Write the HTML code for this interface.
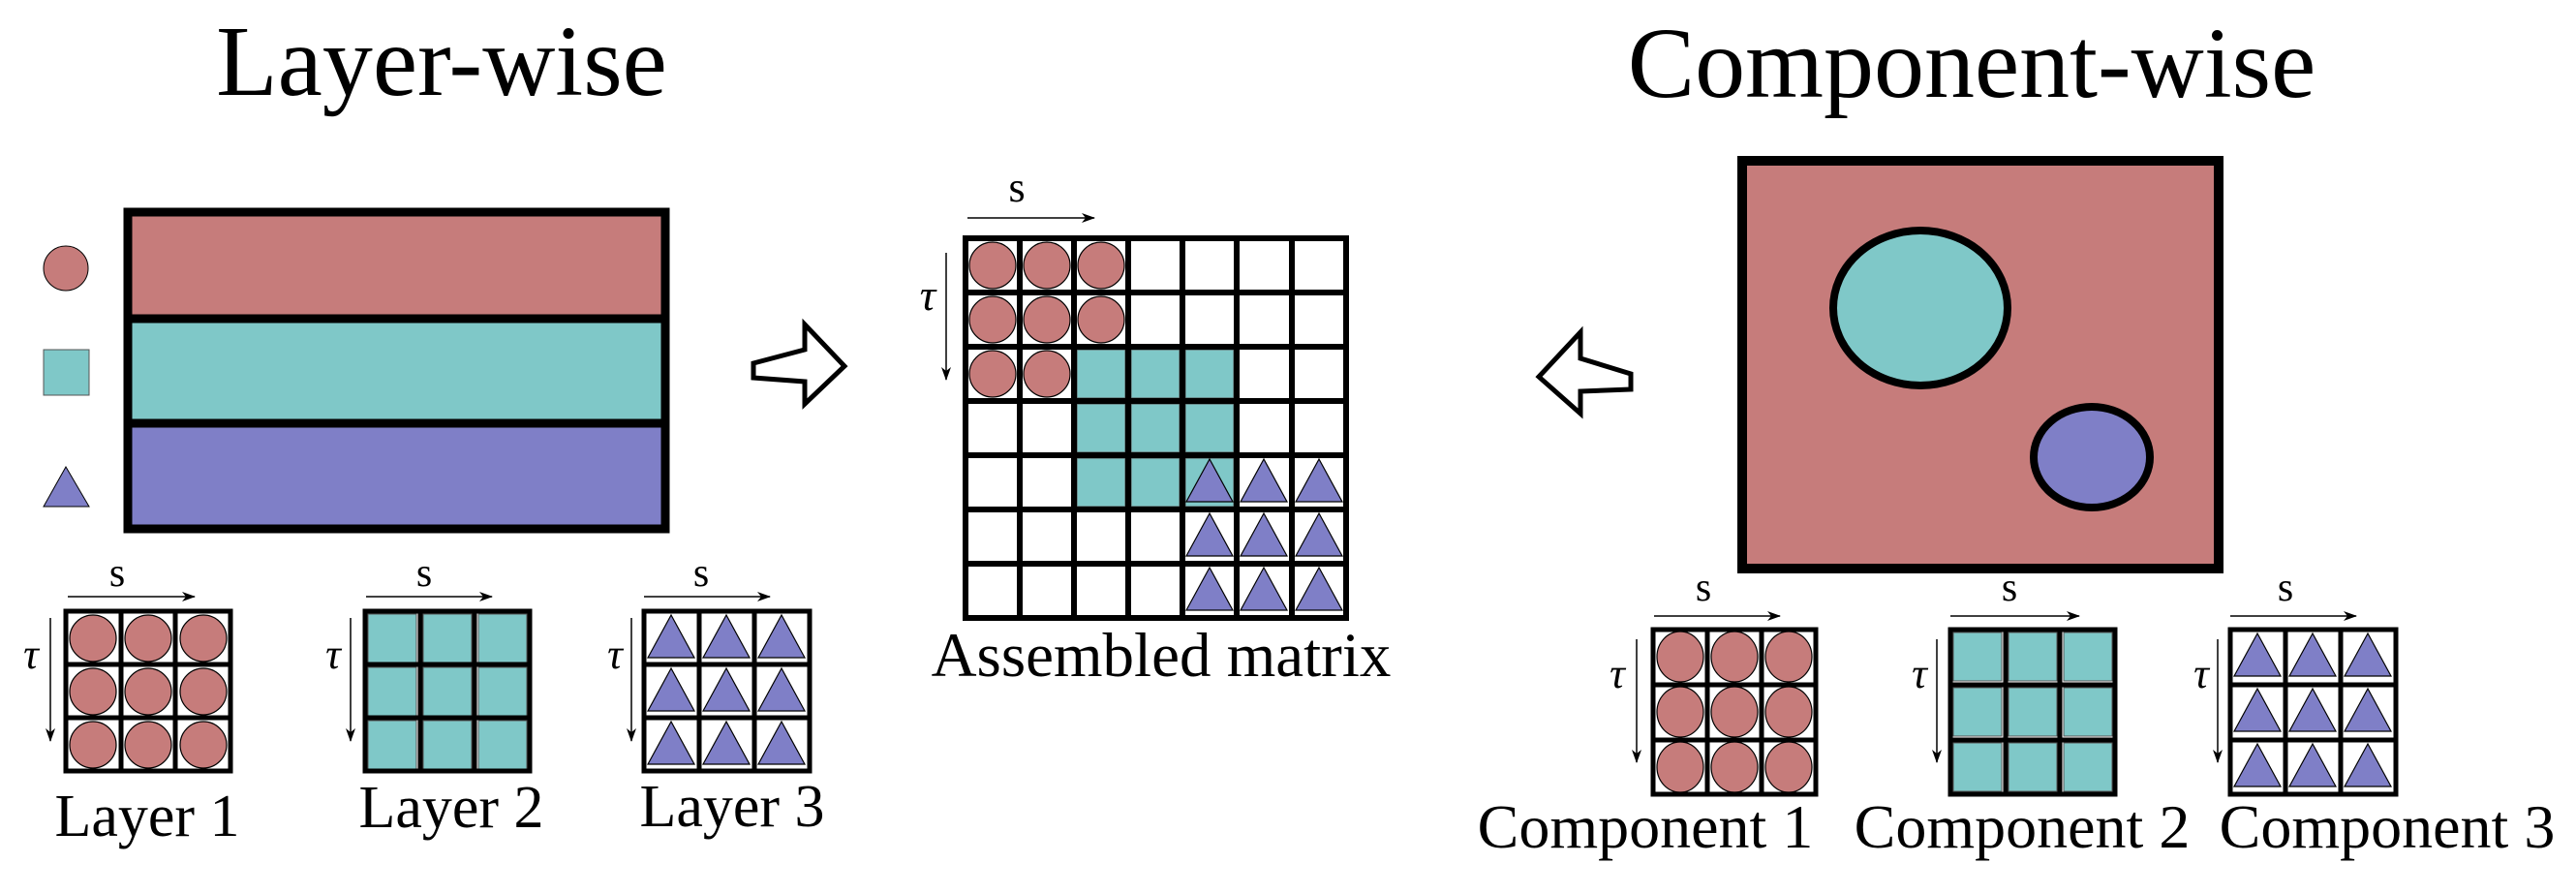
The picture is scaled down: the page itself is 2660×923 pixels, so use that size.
<!DOCTYPE html>
<html><head><meta charset="utf-8"><style>
html,body{margin:0;padding:0;background:#fff;}
svg{display:block;}
text{font-family:"Liberation Serif",serif;fill:#000;}
</style></head><body>
<svg width="2660" height="923" viewBox="0 0 2660 923" xmlns="http://www.w3.org/2000/svg">
<defs>
<circle id="c" cx="0" cy="0" r="24" fill="#c67c7b" stroke="#000" stroke-width="1.2"/>
<ellipse id="e" cx="0" cy="0" rx="24" ry="26" fill="#c67c7b" stroke="#000" stroke-width="1.2"/>
<rect id="q" x="-25" y="-25" width="50" height="50" fill="#7fc8c8" stroke="#555" stroke-width="1"/>
<polygon id="t" points="0,-24 -24,20 24,20" fill="#7f7fc7" stroke="#000" stroke-width="1.2"/>
<marker id="ah" markerWidth="14" markerHeight="10" refX="13" refY="5" orient="auto" markerUnits="userSpaceOnUse">
<path d="M0,0 L14,5 L0,10 L4,5 Z" fill="#000"/></marker>
</defs>

<!-- Titles -->
<text x="456" y="98" font-size="104" text-anchor="middle">Layer-wise</text>
<text x="2036" y="100" font-size="104" text-anchor="middle">Component-wise</text>

<!-- Layer-wise big rect -->
<rect x="132" y="219" width="555" height="108" fill="#c67c7b"/>
<rect x="132" y="329" width="555" height="108" fill="#7fc8c8"/>
<rect x="132" y="437" width="555" height="109" fill="#7f7fc7"/>
<rect x="132" y="219" width="555" height="327" fill="none" stroke="#000" stroke-width="9"/>
<line x1="132" y1="329" x2="687" y2="329" stroke="#000" stroke-width="9"/>
<line x1="132" y1="437" x2="687" y2="437" stroke="#000" stroke-width="9"/>

<!-- legend -->
<circle cx="68" cy="277" r="23" fill="#c67c7b" stroke="#000" stroke-width="1"/>
<rect x="45" y="361" width="47" height="47" fill="#7fc8c8" stroke="#555" stroke-width="1"/>
<polygon points="68,482 45,523 92,523" fill="#7f7fc7" stroke="#000" stroke-width="1"/>

<!-- right hollow arrow -->
<polygon points="778,375 831,361 831,335 872,378 831,417 831,394 778,390" fill="#fff" stroke="#000" stroke-width="5" stroke-linejoin="miter"/>
<!-- left hollow arrow -->
<polygon points="1589,389 1632,343 1632,370 1684,386 1684,402 1632,404 1632,427" fill="#fff" stroke="#000" stroke-width="5"/>

<!-- Layer 1 grid -->
<g>
<use href="#c" x="96" y="659"/><use href="#c" x="153" y="659"/><use href="#c" x="210" y="659"/>
<use href="#c" x="96" y="714"/><use href="#c" x="153" y="714"/><use href="#c" x="210" y="714"/>
<use href="#c" x="96" y="769"/><use href="#c" x="153" y="769"/><use href="#c" x="210" y="769"/>
<rect x="68" y="631" width="170" height="165" fill="none" stroke="#000" stroke-width="5"/>
<path d="M125,631V796M181,631V796M68,686H238M68,741H238" stroke="#000" stroke-width="5"/>
<text x="121" y="605" font-size="42" text-anchor="middle">s</text>
<line x1="70" y1="616" x2="201" y2="616" stroke="#000" stroke-width="1.5" marker-end="url(#ah)"/>
<text x="32" y="690" font-size="44" font-style="italic" text-anchor="middle">τ</text>
<line x1="52" y1="638" x2="52" y2="765" stroke="#000" stroke-width="1.5" marker-end="url(#ah)"/>
<text x="152" y="863" font-size="62" text-anchor="middle">Layer 1</text>
</g>

<!-- Layer 2 grid -->
<g>
<use href="#q" x="405" y="659"/><use href="#q" x="462" y="659"/><use href="#q" x="519" y="659"/>
<use href="#q" x="405" y="714"/><use href="#q" x="462" y="714"/><use href="#q" x="519" y="714"/>
<use href="#q" x="405" y="769"/><use href="#q" x="462" y="769"/><use href="#q" x="519" y="769"/>
<rect x="377" y="631" width="170" height="165" fill="none" stroke="#000" stroke-width="5"/>
<path d="M434,631V796M490,631V796M377,686H547M377,741H547" stroke="#000" stroke-width="5"/>
<text x="438" y="605" font-size="42" text-anchor="middle">s</text>
<line x1="378" y1="616" x2="508" y2="616" stroke="#000" stroke-width="1.5" marker-end="url(#ah)"/>
<text x="344" y="690" font-size="44" font-style="italic" text-anchor="middle">τ</text>
<line x1="362" y1="638" x2="362" y2="765" stroke="#000" stroke-width="1.5" marker-end="url(#ah)"/>
<text x="466" y="854" font-size="62" text-anchor="middle">Layer 2</text>
</g>

<!-- Layer 3 grid -->
<g>
<use href="#t" x="693" y="659"/><use href="#t" x="750" y="659"/><use href="#t" x="807" y="659"/>
<use href="#t" x="693" y="714"/><use href="#t" x="750" y="714"/><use href="#t" x="807" y="714"/>
<use href="#t" x="693" y="769"/><use href="#t" x="750" y="769"/><use href="#t" x="807" y="769"/>
<rect x="665" y="631" width="171" height="165" fill="none" stroke="#000" stroke-width="5"/>
<path d="M722,631V796M779,631V796M665,686H836M665,741H836" stroke="#000" stroke-width="5"/>
<text x="724" y="605" font-size="42" text-anchor="middle">s</text>
<line x1="665" y1="616" x2="795" y2="616" stroke="#000" stroke-width="1.5" marker-end="url(#ah)"/>
<text x="635" y="690" font-size="44" font-style="italic" text-anchor="middle">τ</text>
<line x1="652" y1="638" x2="652" y2="765" stroke="#000" stroke-width="1.5" marker-end="url(#ah)"/>
<text x="756" y="853" font-size="62" text-anchor="middle">Layer 3</text>
</g>

<!-- Assembled matrix -->
<g>
<use href="#c" x="1025" y="274"/><use href="#c" x="1081" y="274"/><use href="#c" x="1137" y="274"/>
<use href="#c" x="1025" y="330"/><use href="#c" x="1081" y="330"/><use href="#c" x="1137" y="330"/>
<use href="#c" x="1025" y="386"/><use href="#c" x="1081" y="386"/><use href="#c" x="1137" y="386"/>
<rect x="1110" y="358" width="168" height="168" fill="#7fc8c8"/>
<use href="#q" x="1137" y="386"/><use href="#q" x="1193" y="386"/><use href="#q" x="1249" y="386"/>
<use href="#q" x="1137" y="442"/><use href="#q" x="1193" y="442"/><use href="#q" x="1249" y="442"/>
<use href="#q" x="1137" y="498"/><use href="#q" x="1193" y="498"/><use href="#q" x="1249" y="498"/>
<use href="#t" x="1249" y="498"/><use href="#t" x="1305" y="498"/><use href="#t" x="1362" y="498"/>
<use href="#t" x="1249" y="554"/><use href="#t" x="1305" y="554"/><use href="#t" x="1362" y="554"/>
<use href="#t" x="1249" y="610"/><use href="#t" x="1305" y="610"/><use href="#t" x="1362" y="610"/>
<rect x="997" y="246" width="393" height="392" fill="none" stroke="#000" stroke-width="6"/>
<path d="M1053,246V638M1109,246V638M1165,246V638M1221,246V638M1277,246V638M1334,246V638M997,302H1390M997,358H1390M997,414H1390M997,470H1390M997,526H1390M997,582H1390" stroke="#000" stroke-width="6"/>
<text x="1050" y="208" font-size="44" text-anchor="middle">s</text>
<line x1="999" y1="225" x2="1130" y2="225" stroke="#000" stroke-width="1.5" marker-end="url(#ah)"/>
<text x="958" y="320" font-size="46" font-style="italic" text-anchor="middle">τ</text>
<line x1="977" y1="261" x2="977" y2="392" stroke="#000" stroke-width="1.5" marker-end="url(#ah)"/>
<text x="1199" y="698" font-size="65" text-anchor="middle">Assembled matrix</text>
</g>

<!-- Component-wise big rect -->
<rect x="1799" y="166" width="492" height="421" fill="#c67c7b" stroke="#000" stroke-width="10"/>
<ellipse cx="1983" cy="318" rx="90" ry="80" fill="#7fc8c8" stroke="#000" stroke-width="8"/>
<ellipse cx="2160" cy="472" rx="60" ry="52" fill="#7f7fc7" stroke="#000" stroke-width="8"/>

<!-- Component 1 -->
<g>
<use href="#e" x="1735" y="678"/><use href="#e" x="1791" y="678"/><use href="#e" x="1847" y="678"/>
<use href="#e" x="1735" y="735"/><use href="#e" x="1791" y="735"/><use href="#e" x="1847" y="735"/>
<use href="#e" x="1735" y="792"/><use href="#e" x="1791" y="792"/><use href="#e" x="1847" y="792"/>
<rect x="1707" y="650" width="168" height="170" fill="none" stroke="#000" stroke-width="5"/>
<path d="M1763,650V820M1819,650V820M1707,707H1875M1707,764H1875" stroke="#000" stroke-width="5"/>
<text x="1759" y="620" font-size="42" text-anchor="middle">s</text>
<line x1="1708" y1="636" x2="1838" y2="636" stroke="#000" stroke-width="1.5" marker-end="url(#ah)"/>
<text x="1670" y="710" font-size="44" font-style="italic" text-anchor="middle">τ</text>
<line x1="1690" y1="660" x2="1690" y2="787" stroke="#000" stroke-width="1.5" marker-end="url(#ah)"/>
<text x="1699" y="875" font-size="64" text-anchor="middle">Component 1</text>
</g>

<!-- Component 2 -->
<g>
<use href="#q" x="2042" y="678"/><use href="#q" x="2099" y="678"/><use href="#q" x="2156" y="678"/>
<use href="#q" x="2042" y="735"/><use href="#q" x="2099" y="735"/><use href="#q" x="2156" y="735"/>
<use href="#q" x="2042" y="792"/><use href="#q" x="2099" y="792"/><use href="#q" x="2156" y="792"/>
<rect x="2014" y="650" width="170" height="170" fill="none" stroke="#000" stroke-width="5"/>
<path d="M2071,650V820M2127,650V820M2014,707H2184M2014,764H2184" stroke="#000" stroke-width="5"/>
<text x="2075" y="620" font-size="42" text-anchor="middle">s</text>
<line x1="2014" y1="636" x2="2147" y2="636" stroke="#000" stroke-width="1.5" marker-end="url(#ah)"/>
<text x="1982" y="710" font-size="44" font-style="italic" text-anchor="middle">τ</text>
<line x1="2000" y1="660" x2="2000" y2="787" stroke="#000" stroke-width="1.5" marker-end="url(#ah)"/>
<text x="2088" y="875" font-size="64" text-anchor="middle">Component 2</text>
</g>

<!-- Component 3 -->
<g>
<use href="#t" x="2331" y="678"/><use href="#t" x="2388" y="678"/><use href="#t" x="2445" y="678"/>
<use href="#t" x="2331" y="735"/><use href="#t" x="2388" y="735"/><use href="#t" x="2445" y="735"/>
<use href="#t" x="2331" y="792"/><use href="#t" x="2388" y="792"/><use href="#t" x="2445" y="792"/>
<rect x="2303" y="650" width="171" height="170" fill="none" stroke="#000" stroke-width="5"/>
<path d="M2360,650V820M2417,650V820M2303,707H2474M2303,764H2474" stroke="#000" stroke-width="5"/>
<text x="2360" y="620" font-size="42" text-anchor="middle">s</text>
<line x1="2303" y1="636" x2="2433" y2="636" stroke="#000" stroke-width="1.5" marker-end="url(#ah)"/>
<text x="2273" y="710" font-size="44" font-style="italic" text-anchor="middle">τ</text>
<line x1="2290" y1="660" x2="2290" y2="787" stroke="#000" stroke-width="1.5" marker-end="url(#ah)"/>
<text x="2465" y="875" font-size="64" text-anchor="middle">Component 3</text>
</g>
</svg>
</body></html>
